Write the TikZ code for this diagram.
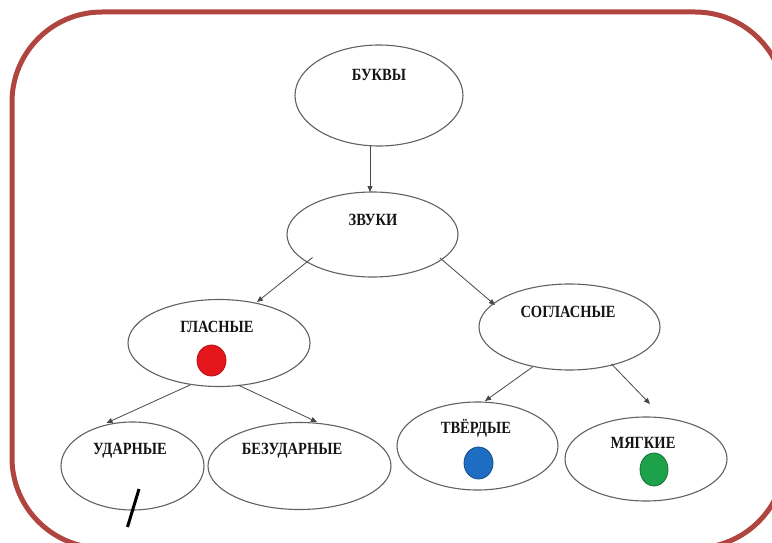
\documentclass[tikz,border=0pt]{standalone}
\usepackage{fontspec}
\setmainfont{Liberation Serif}
\usetikzlibrary{shapes.geometric,calc,arrows.meta}
\definecolor{framered}{HTML}{B0443F}
\definecolor{dotred}{HTML}{E5161B}
\definecolor{dotblue}{HTML}{1F6DC2}
\definecolor{dotgreen}{HTML}{1DA14A}
\newcommand{\tallbox}[1]{\scalebox{1}[1.18]{#1}}
\begin{document}
\begin{tikzpicture}[x=1pt,y=-1pt,
  oval/.style={ellipse, draw=black!62, line width=1.1pt, inner sep=0pt},
  lab/.style={font=\fontsize{14.5}{16}\selectfont\bfseries, text=black!92, inner sep=0pt, anchor=base},
  arr/.style={draw=black!72, line width=0.8pt, -{Triangle[length=6pt,width=5pt]}},
  dot/.style={ellipse, inner sep=0pt, line width=0.8pt}]
\useasboundingbox (0,0) rectangle (772,543);
\draw[framered, line width=5pt, rounded corners=90pt] (12,12) rectangle (785,548);

% ellipses
\node[oval, minimum width=168pt, minimum height=101pt] (bukvy) at (379,95.5) {};
\node[oval, minimum width=171pt, minimum height=85pt] (zvuki) at (372.5,234.5) {};
\node[oval, minimum width=182pt, minimum height=87pt] (glasnye) at (219,343) {};
\node[oval, minimum width=181pt, minimum height=86pt] (soglasnye) at (569.5,327) {};
\node[oval, minimum width=143pt, minimum height=88pt] (udarnye) at (132.5,466) {};
\node[oval, minimum width=183pt, minimum height=87pt] (bezudarnye) at (299.5,466) {};
\node[oval, minimum width=161pt, minimum height=88pt] (tverdye) at (477.5,446) {};
\node[oval, minimum width=162pt, minimum height=84pt] (myagkie) at (646,459) {};

% labels
\node[lab] (tbukvy) at (379,81) {\tallbox{БУКВЫ}};
\node[lab] (tzvuki) at (373,225) {\tallbox{ЗВУКИ}};
\node[lab] (tglasnye) at (217,332) {\tallbox{ГЛАСНЫЕ}};
\node[lab] (tsoglasnye) at (568,317) {\tallbox{СОГЛАСНЫЕ}};
\node[lab] (tudarnye) at (130,454) {\tallbox{УДАРНЫЕ}};
\node[lab] (tbezudarnye) at (292,454) {\tallbox{БЕЗУДАРНЫЕ}};
\node[lab] (ttverdye) at (476,433) {\tallbox{ТВЁРДЫЕ}};
\node[lab] (tmyagkie) at (643,448) {\tallbox{МЯГКИЕ}};

% coloured dots
\node[dot, fill=dotred, draw=dotred!80!black, minimum width=29pt, minimum height=31pt] (rdot) at (211.5,360.5) {};
\node[dot, fill=dotblue, draw=dotblue!70!black, minimum width=29pt, minimum height=32pt] (bdot) at (478.5,463) {};
\node[dot, fill=dotgreen, draw=dotgreen!70!black, minimum width=28pt, minimum height=33pt] (gdot) at (654,469.5) {};

% stress mark
\draw[line width=3pt, black] ($(udarnye.center)+(-5,61)$) -- ($(udarnye.center)+(6.5,23)$);

% connectors
\draw[arr] ($(bukvy.center)+(-9,50.5)$) -- ($(zvuki.center)+(-2.5,-42.5)$);
\draw[arr] ($(zvuki.center)+(-60,23)$) -- ($(glasnye.center)+(38,-41)$);
\draw[arr] ($(zvuki.center)+(67.5,23.5)$) -- ($(soglasnye.center)+(-74.5,-22)$);
\draw[arr] ($(glasnye.center)+(-29,42)$) -- ($(udarnye.center)+(-26,-43)$);
\draw[arr] ($(glasnye.center)+(19,42)$) -- ($(bezudarnye.center)+(17.5,-44)$);
\draw[arr] ($(soglasnye.center)+(-37,40)$) -- ($(tverdye.center)+(7.5,-45)$);
\draw[arr] ($(soglasnye.center)+(42,37)$) -- ($(myagkie.center)+(4,-55)$);
\end{tikzpicture}
\end{document}
